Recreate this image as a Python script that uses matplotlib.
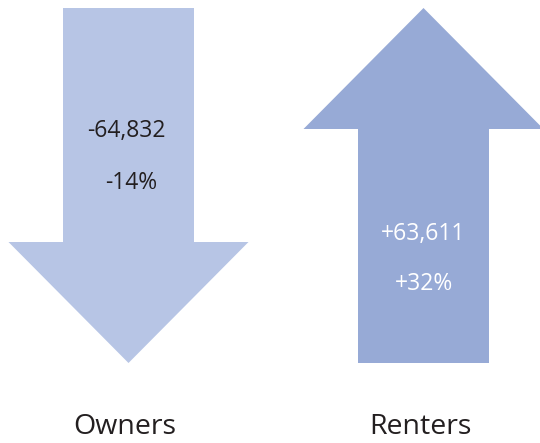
import matplotlib
matplotlib.use("Agg")
import matplotlib.pyplot as plt
from matplotlib.patches import FancyArrow

categories = ["Owners", "Renters"]
changes = [-64832, 63611]
pct_changes = [-14, 32]

colors = ["#b7c5e5", "#97aad6"]
text_colors = ["#231f20", "#ffffff"]

fig = plt.figure(figsize=(5.40, 4.43), dpi=100)
ax = fig.add_axes([0, 0, 1, 1])
ax.set_xlim(0, 540)
ax.set_ylim(443, 0)
ax.axis("off")

font = "Open Sans"
centers = [128.5, 423.5]
top, bottom = 8, 363
shaft_w, head_w, head_len = 131, 240, 121

for i, (cat, v, p) in enumerate(zip(categories, changes, pct_changes)):
    cx = centers[i]
    if v < 0:
        y0, dy = top, bottom - top
    else:
        y0, dy = bottom, top - bottom
    arr = FancyArrow(cx, y0, 0, dy, width=shaft_w, head_width=head_w,
                     head_length=head_len, length_includes_head=True,
                     color=colors[i], linewidth=0)
    ax.add_patch(arr)
    if v < 0:
        ty1, ty2 = 131, 183
        tx1, tx2 = cx - 2, cx + 3
    else:
        ty1, ty2 = 234, 284
        tx1, tx2 = cx, cx
    label = f"+{v:,}" if v > 0 else f"{v:,}"
    ax.text(tx1, ty1, label, ha="center", va="center", fontsize=16.5,
            color=text_colors[i], family=font)
    ax.text(tx2, ty2, f"{p:+d}%", ha="center", va="center", fontsize=16.5,
            color=text_colors[i], family=font)
    ax.text(cx - (4 if i == 0 else 3), 427, cat, ha="center", va="center",
            fontsize=20.5, color="#231f20", family=font)

fig.savefig("out.png", dpi=100)
